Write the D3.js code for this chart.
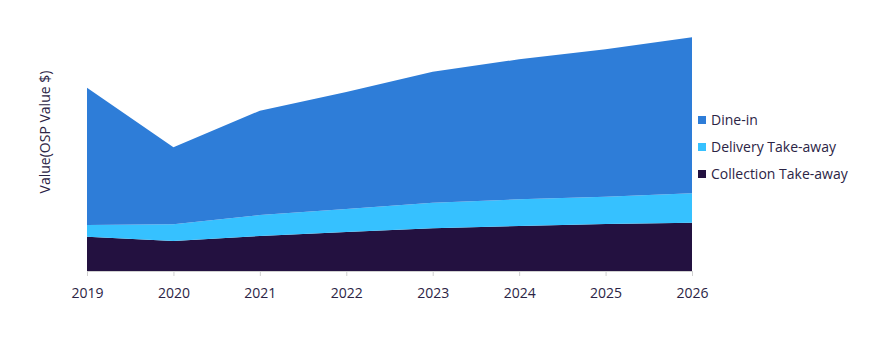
<!DOCTYPE html>
<html>
<head>
<meta charset="utf-8">
<script src="https://cdn.jsdelivr.net/npm/d3@7"></script>
<style>
  body { margin: 0; background: #fff; }
  text { font-family: "Open Sans", sans-serif; fill: #2b2445; }
</style>
</head>
<body>
<script>
// values (arbitrary units, no y axis shown)
var years = [2019, 2020, 2021, 2022, 2023, 2024, 2025, 2026];
var collection = [34.3, 30, 35, 39, 42.7, 45, 47, 48.3];
var delivery = [11.7, 16.7, 21, 23, 25.6, 26.7, 27.3, 29.4];
var dineIn = [137.3, 77, 104.3, 117, 131, 140, 147.4, 156];

var seriesNames = ["Collection Take-away", "Delivery Take-away", "Dine-in"];
var legendOrder = ["Dine-in", "Delivery Take-away", "Collection Take-away"];
var colors = { "Dine-in": "#2e7dd8", "Delivery Take-away": "#36c1ff", "Collection Take-away": "#231140" };

var width = 884, height = 352;

var rows = years.map(function(y, i) {
  return { year: y, "Collection Take-away": collection[i], "Delivery Take-away": delivery[i], "Dine-in": dineIn[i] };
});

var x = d3.scaleLinear().domain([2019, 2026]).range([87, 692]);
var y = d3.scaleLinear().domain([0, 240]).range([271, 31]);

var svg = d3.select("body").append("svg")
    .attr("width", width)
    .attr("height", height);

var stack = d3.stack().keys(seriesNames);
var layers = stack(rows);

var area = d3.area()
    .x(function(d) { return x(d.data.year); })
    .y0(function(d) { return y(d[0]); })
    .y1(function(d) { return y(d[1]); });

svg.append("g").selectAll("path")
    .data(layers)
  .enter().append("path")
    .attr("d", area)
    .style("fill", function(d) { return colors[d.key]; });

// x axis
var xAxis = d3.axisBottom(x)
    .tickValues(years)
    .tickFormat(d3.format("d"))
    .tickSize(5)
    .tickPadding(12);

var gx = svg.append("g")
    .attr("transform", "translate(0," + y(0) + ")")
    .call(xAxis);
gx.select(".domain").attr("stroke", "#d0d0d0");
gx.selectAll(".tick line").attr("stroke", "#d0d0d0");
gx.selectAll(".tick text")
    .style("font-size", "14px")
    .style("font-family", "'Open Sans', sans-serif")
    .attr("fill", "#2b2445");

// y label
svg.append("text")
    .attr("transform", "translate(50,132) rotate(-90)")
    .attr("text-anchor", "middle")
    .style("font-size", "14px")
    .text("Value(OSP Value $)");

// legend
var legend = svg.append("g").selectAll("g")
    .data(legendOrder)
  .enter().append("g")
    .attr("transform", function(d, i) { return "translate(698," + (120 + i * 27) + ")"; });

legend.append("rect")
    .attr("x", 0)
    .attr("y", -4)
    .attr("width", 8)
    .attr("height", 8)
    .style("fill", function(d) { return colors[d]; });

legend.append("text")
    .attr("x", 13)
    .attr("y", 0)
    .attr("dy", "0.35em")
    .style("font-size", "14px")
    .text(function(d) { return d; });
</script>
</body>
</html>
